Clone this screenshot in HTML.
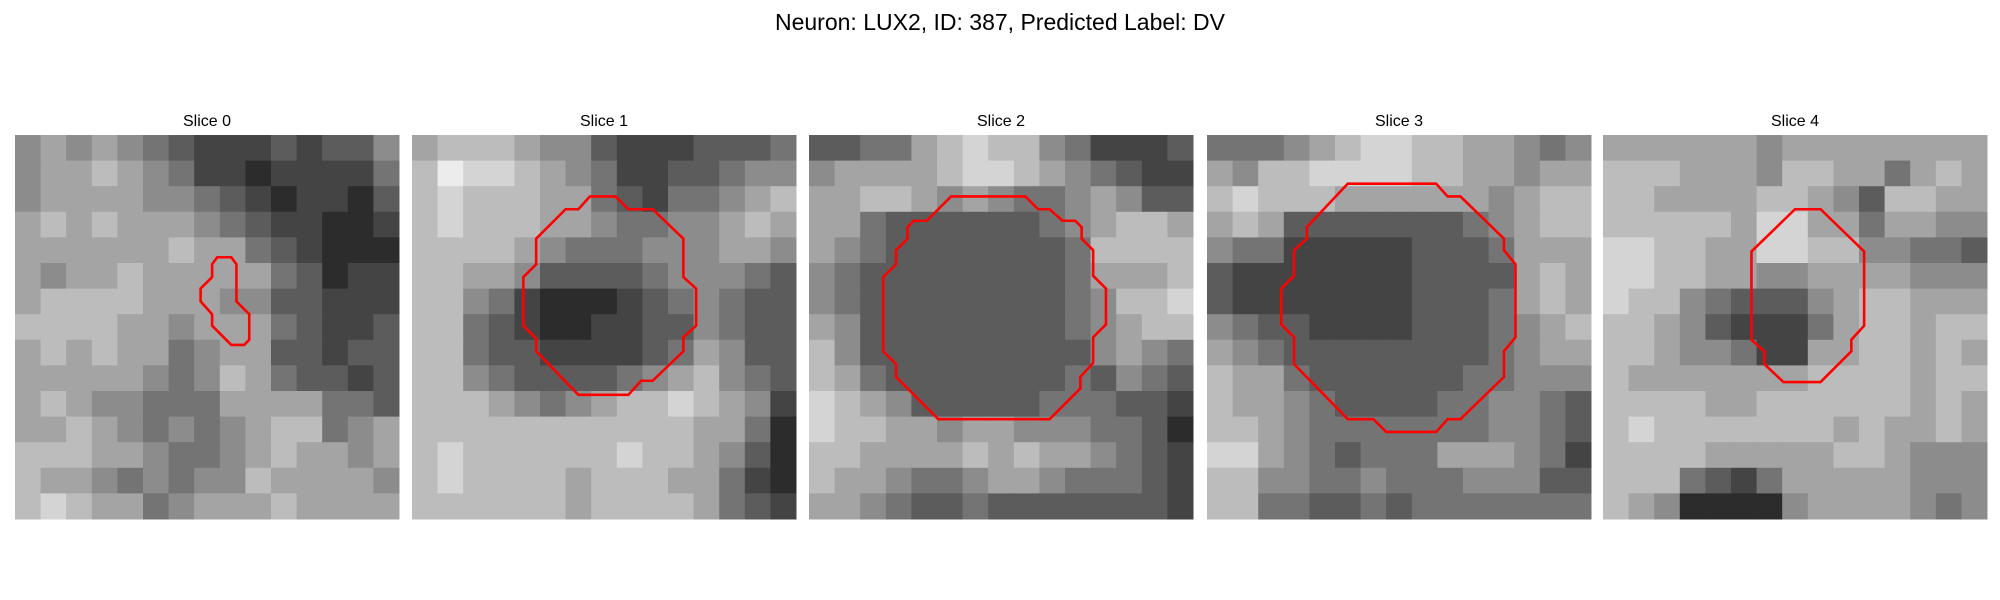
<!DOCTYPE html>
<html><head><meta charset="utf-8"><style>
html,body{margin:0;padding:0;background:#fff;width:2000px;height:600px;overflow:hidden}
svg{display:block;font-family:"Liberation Sans","DejaVu Sans",sans-serif}
</style></head><body>
<svg id="fig" width="2000" height="600" viewBox="0 0 2000 600">
<text x="1000" y="30" text-anchor="middle" font-size="23" fill="#000">Neuron: LUX2, ID: 387, Predicted Label: DV</text>
</svg>
<script>
const sliceTitles = ["Slice 0","Slice 1","Slice 2","Slice 3","Slice 4"];
const slice0 = ["565654322232335","566765422122224","566665543212213","676766654322112","666666766432111","656676666643122","677776665533222","777766566643223","676766456633233","666665457643323","676554446666443","667654545677456","777665445676656","766545455766665","787664566676666"];
const slice1 = ["677765532223334","798876542233455","787776643244567","787776654455676","777765444555665","776653333455543","775421112345433","774321122335433","774332222346533","775433334567543","777654567787652","777777777776641","787777778776531","787777677766421","777777677776432"];
const slice2 = ["334467877542223","566667887654322","667765654456533","664333333456776","654333333347777","543333333346667","543333333345778","653333333345677","753333333335654","764333333343543","876533333444332","877665665554431","776666767665432","766544566544432","665433433333332"];
const slice3 = ["444567887766545","657788887766566","787776666665677","676333333345677","544222223334666","322222223333676","322222223334676","543322223334567","654333333334566","766433333344555","766543333445543","776544444445543","886543444666542","775544544455533","774433434444444"];
const slice4 = ["666666566666666","777666577664676","776666776537766","777776886646655","887766887755443","887766556666555","877543335677666","776532224677677","776554226677676","766666667777677","777766777777676","787777777676676","777766666776555","777432466666555","765111156666545"];
const contour0 = [[15.8,9.55],[16.9,9.55],[17.3,10.1],[17.3,13.0],[18.3,14.0],[18.3,16.0],[17.9,16.4],[16.9,16.4],[15.4,14.9],[15.4,14.0],[14.5,13.0],[14.5,12.0],[15.4,11.1],[15.4,10.1]];
const contour1 = [[13.9,4.8],[15.9,4.8],[16.9,5.8],[18.8,5.8],[21.2,8.1],[21.2,11.1],[22.2,12.0],[22.2,14.9],[21.2,15.8],[21.2,16.9],[18.8,19.2],[17.9,19.2],[16.9,20.3],[13.0,20.3],[9.7,16.9],[9.7,15.9],[8.7,14.9],[8.7,11.1],[9.7,10.1],[9.7,8.1],[12.0,5.8],[13.0,5.8]];
const contour2 = [[11.1,4.8],[16.9,4.8],[17.9,5.8],[18.8,5.8],[19.8,6.7],[20.8,6.7],[21.3,7.2],[21.3,8.1],[22.2,9.0],[22.2,11.0],[23.2,12.0],[23.2,14.8],[22.2,15.8],[22.2,17.8],[21.2,18.9],[21.2,19.8],[18.8,22.2],[10.1,22.2],[6.8,18.9],[6.8,17.9],[5.8,16.9],[5.8,11.1],[6.8,10.1],[6.8,9.0],[7.7,8.1],[7.7,7.2],[8.2,6.7],[9.2,6.7]];
const contour3 = [[11.0,3.8],[17.9,3.8],[18.8,4.8],[19.8,4.8],[23.2,8.1],[23.2,9.0],[24.1,10.1],[24.1,15.8],[23.2,16.9],[23.2,18.9],[19.8,22.2],[18.8,22.2],[17.9,23.2],[14.0,23.2],[13.0,22.2],[11.0,22.2],[6.8,17.9],[6.8,15.8],[5.8,14.8],[5.8,12.0],[6.8,11.0],[6.8,9.0],[7.8,8.1],[7.8,7.2]];
const contour4 = [[15.0,5.8],[17.0,5.8],[20.4,9.1],[20.4,14.9],[19.4,16.0],[19.4,16.9],[17.0,19.3],[14.1,19.3],[12.6,17.9],[12.6,16.9],[11.6,16.0],[11.6,9.1]];

const images = [slice0,slice1,slice2,slice3,slice4];
const contours = [contour0,contour1,contour2,contour3,contour4];
const NS = "http://www.w3.org/2000/svg";
const svg = document.getElementById('fig');
const panelLeft = [15,412,809,1207,1603];
const panelTop = 135, panelSize = 384, imgPixels = 30;
function xScale(p, v){ return panelLeft[p] + v/imgPixels*panelSize; }
function yScale(v){ return panelTop + v/imgPixels*panelSize; }
function grayScale(d){ return Math.round(20 + d*24); }

images.forEach((img, p) => {
  const g = document.createElementNS(NS,'g');
  
  
  svg.appendChild(g);
  const t = document.createElementNS(NS,'text');
  
  
  t.setAttribute('x', xScale(p, 15));
  t.setAttribute('y', 126);
  t.setAttribute('text-anchor','middle');
  t.setAttribute('font-size','16');
  t.textContent = sliceTitles[p];
  g.appendChild(t);
  const n = img.length, cell = imgPixels/n;
  img.forEach((row, r) => {
    for (let c = 0; c < row.length; c++) {
      const v = grayScale(parseInt(row[c],10));
      const rc = document.createElementNS(NS,'rect');
      
      
      const x0 = xScale(p, c*cell), x1 = xScale(p, (c+1)*cell);
      const y0 = yScale(r*cell), y1 = yScale((r+1)*cell);
      rc.setAttribute('x', x0); rc.setAttribute('y', y0);
      rc.setAttribute('width', x1-x0+0.5); rc.setAttribute('height', y1-y0+0.5);
      rc.setAttribute('fill', `rgb(${v},${v},${v})`);
      g.appendChild(rc);
    }
  });
  const pl = document.createElementNS(NS,'polygon');
  
  
  pl.setAttribute('points', contours[p].map(q => xScale(p,q[0]) + ',' + yScale(q[1])).join(' '));
  pl.setAttribute('fill','none');
  pl.setAttribute('stroke','#ff0000');
  pl.setAttribute('stroke-width','2.6');
  g.appendChild(pl);
});
</script>
</body></html>
